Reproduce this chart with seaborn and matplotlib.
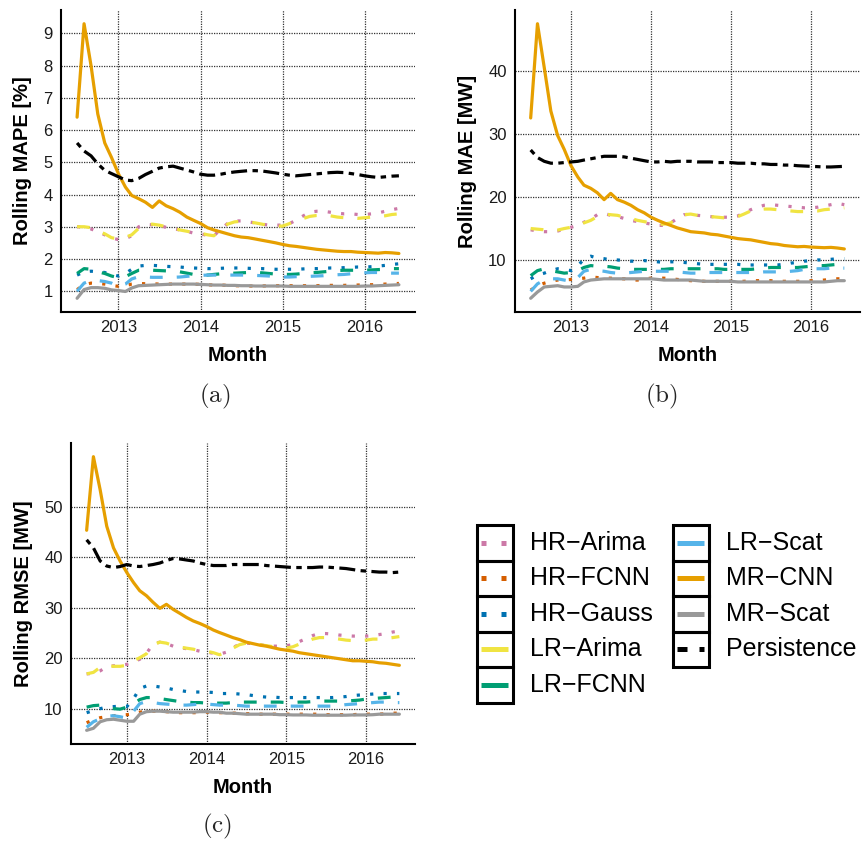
import matplotlib
matplotlib.use("Agg")
import matplotlib.pyplot as plt
import matplotlib.dates as mdates
from matplotlib.patches import Rectangle
from matplotlib.lines import Line2D
import numpy as np
import pandas as pd
import seaborn as sns

# months: Jul 2012 .. Jun 2016
months = pd.date_range("2012-07-01", periods=48, freq="MS")

models = ["HR-Arima", "HR-FCNN", "HR-Gauss", "LR-Arima", "LR-FCNN",
          "LR-Scat", "MR-CNN", "MR-Scat", "Persistence"]

# ---- (a) rolling MAPE [%]
mape_hr_arima = [3.0, 2.98, 2.93, 2.85, 2.75, 2.65, 2.6, 2.63, 2.72, 3.0, 3.07, 3.06, 3.04, 2.98, 2.94, 2.9,
                 2.86, 2.8, 2.78, 2.73, 2.72, 2.92, 3.1, 3.18, 3.18, 3.15, 3.12, 3.08, 3.05, 3.05, 3.05, 3.1,
                 3.2, 3.33, 3.45, 3.48, 3.48, 3.45, 3.42, 3.4, 3.4, 3.38, 3.38, 3.4, 3.43, 3.48, 3.53, 3.57]
mape_hr_fcnn = [1.05, 1.2, 1.25, 1.24, 1.22, 1.18, 1.15, 1.17, 1.22, 1.24, 1.23, 1.23, 1.22, 1.22, 1.22, 1.22,
                1.22, 1.22, 1.21, 1.2, 1.19, 1.19, 1.18, 1.17, 1.17, 1.16, 1.16, 1.16, 1.17, 1.17, 1.17, 1.17,
                1.17, 1.17, 1.17, 1.17, 1.18, 1.18, 1.18, 1.18, 1.19, 1.19, 1.2, 1.2, 1.21, 1.22, 1.23, 1.24]
mape_hr_gauss = [1.5, 1.6, 1.62, 1.6, 1.58, 1.52, 1.47, 1.55, 1.68, 1.78, 1.8, 1.8, 1.79, 1.77, 1.76, 1.75,
                 1.73, 1.72, 1.71, 1.7, 1.7, 1.71, 1.72, 1.72, 1.72, 1.71, 1.7, 1.7, 1.69, 1.68, 1.68, 1.68,
                 1.68, 1.69, 1.7, 1.7, 1.71, 1.72, 1.72, 1.73, 1.74, 1.75, 1.75, 1.76, 1.78, 1.8, 1.83, 1.85]
mape_lr_arima = [3.0, 3.0, 2.97, 2.87, 2.78, 2.66, 2.62, 2.67, 2.75, 2.95, 3.07, 3.08, 3.05, 3.0, 2.96, 2.9,
                 2.86, 2.82, 2.8, 2.75, 2.72, 2.9, 3.08, 3.15, 3.17, 3.15, 3.12, 3.08, 3.04, 3.02, 3.02, 3.1,
                 3.18, 3.25, 3.32, 3.35, 3.36, 3.34, 3.3, 3.28, 3.27, 3.26, 3.28, 3.3, 3.32, 3.34, 3.38, 3.4]
mape_lr_fcnn = [1.55, 1.7, 1.68, 1.6, 1.55, 1.47, 1.42, 1.45, 1.55, 1.65, 1.66, 1.65, 1.64, 1.63, 1.62, 1.6,
                1.56, 1.52, 1.5, 1.5, 1.52, 1.54, 1.55, 1.56, 1.57, 1.58, 1.58, 1.57, 1.55, 1.53, 1.52, 1.52,
                1.53, 1.55, 1.57, 1.58, 1.6, 1.62, 1.64, 1.65, 1.65, 1.65, 1.65, 1.66, 1.67, 1.68, 1.7, 1.7]
mape_lr_scat = [1.0, 1.25, 1.33, 1.33, 1.3, 1.25, 1.15, 1.22, 1.38, 1.45, 1.44, 1.43, 1.43, 1.43, 1.43, 1.44,
                1.46, 1.48, 1.49, 1.5, 1.5, 1.5, 1.5, 1.5, 1.5, 1.5, 1.49, 1.48, 1.47, 1.45, 1.44, 1.44,
                1.45, 1.46, 1.46, 1.47, 1.48, 1.5, 1.51, 1.52, 1.54, 1.56, 1.57, 1.58, 1.58, 1.57, 1.56, 1.56]
mape_mr_cnn = [6.4, 9.3, 8.0, 6.5, 5.6, 5.15, 4.64, 4.23, 3.97, 3.87, 3.76, 3.6, 3.8, 3.65, 3.56, 3.45,
               3.3, 3.2, 3.1, 2.97, 2.9, 2.84, 2.78, 2.72, 2.68, 2.66, 2.62, 2.58, 2.54, 2.5, 2.45, 2.41,
               2.39, 2.36, 2.33, 2.3, 2.28, 2.26, 2.24, 2.23, 2.23, 2.21, 2.2, 2.19, 2.18, 2.2, 2.19, 2.17]
mape_mr_scat = [0.78, 1.05, 1.11, 1.11, 1.09, 1.04, 1.02, 0.99, 1.1, 1.17, 1.18, 1.19, 1.2, 1.21, 1.22, 1.22,
                1.22, 1.22, 1.21, 1.2, 1.19, 1.19, 1.18, 1.18, 1.17, 1.17, 1.16, 1.16, 1.16, 1.16, 1.16, 1.15,
                1.15, 1.15, 1.15, 1.15, 1.15, 1.15, 1.15, 1.15, 1.15, 1.15, 1.16, 1.16, 1.17, 1.18, 1.19, 1.2]
mape_persistence = [5.6, 5.35, 5.2, 4.95, 4.75, 4.65, 4.55, 4.45, 4.43, 4.5, 4.62, 4.72, 4.82, 4.86, 4.88, 4.82,
                    4.76, 4.7, 4.63, 4.6, 4.6, 4.63, 4.67, 4.7, 4.72, 4.74, 4.74, 4.73, 4.7, 4.67, 4.63, 4.6,
                    4.58, 4.6, 4.62, 4.64, 4.66, 4.68, 4.69, 4.68, 4.65, 4.62, 4.58, 4.55, 4.53, 4.55, 4.57, 4.58]

# ---- (b) rolling MAE [MW]
mae_hr_arima = [14.8, 14.6, 14.5, 14.5, 14.6, 14.9, 15.2, 15.5, 16.0, 16.5, 17.2, 17.4, 17.1, 16.9, 16.6, 16.3,
                16.1, 15.9, 15.7, 15.5, 15.5, 15.9, 16.6, 17.2, 17.3, 17.1, 17.0, 16.9, 16.8, 16.8, 16.8, 17.0,
                17.5, 18.0, 18.4, 18.7, 18.8, 18.7, 18.6, 18.5, 18.4, 18.3, 18.3, 18.4, 18.6, 18.8, 19.0, 18.8]
mae_hr_fcnn = [5.2, 5.9, 6.3, 6.6, 6.8, 6.8, 6.9, 7.0, 7.1, 7.3, 7.2, 7.1, 7.1, 7.0, 7.0, 6.8,
               6.8, 7.0, 7.1, 7.1, 7.1, 7.0, 6.9, 6.8, 6.7, 6.7, 6.6, 6.6, 6.6, 6.6, 6.6, 6.6,
               6.6, 6.7, 6.7, 6.7, 6.7, 6.6, 6.6, 6.6, 6.6, 6.6, 6.7, 6.7, 6.8, 6.9, 7.0, 7.0]
mae_hr_gauss = [7.0, 7.6, 7.9, 8.3, 8.6, 8.5, 8.3, 9.0, 10.2, 10.6, 10.3, 10.2, 10.0, 10.0, 9.9, 9.8,
                9.8, 9.9, 9.8, 9.7, 9.6, 9.7, 9.7, 9.6, 9.5, 9.4, 9.3, 9.3, 9.3, 9.3, 9.3, 9.3,
                9.2, 9.2, 9.2, 9.2, 9.2, 9.2, 9.3, 9.5, 9.6, 9.8, 9.9, 10.0, 10.0, 10.1, 10.2, 10.2]
mae_lr_arima = [15.0, 14.9, 14.8, 14.6, 14.75, 15.0, 15.2, 15.4, 15.9, 16.3, 16.9, 17.3, 17.2, 17.1, 16.8, 16.6,
                16.3, 16.1, 15.9, 15.7, 15.7, 15.9, 16.6, 17.2, 17.3, 17.1, 16.9, 16.9, 16.8, 16.7, 16.7, 16.9,
                17.3, 17.8, 18.0, 18.1, 18.1, 18.0, 17.9, 17.8, 17.7, 17.7, 17.8, 17.8, 18.0, 18.1, 18.2, 18.3]
mae_lr_fcnn = [7.5, 8.3, 8.6, 8.3, 8.1, 7.9, 8.0, 8.3, 8.8, 9.1, 9.0, 9.0, 8.9, 8.7, 8.6, 8.5,
               8.5, 8.5, 8.5, 8.5, 8.5, 8.6, 8.6, 8.6, 8.6, 8.6, 8.6, 8.6, 8.6, 8.5, 8.5, 8.5,
               8.5, 8.5, 8.6, 8.7, 8.8, 8.8, 8.8, 8.8, 8.8, 8.9, 9.0, 9.1, 9.1, 9.2, 9.3, 9.3]
mae_lr_scat = [5.0, 6.2, 6.8, 7.0, 7.0, 6.8, 6.6, 7.2, 8.2, 8.5, 8.3, 8.2, 8.0, 7.9, 7.9, 8.0,
               8.1, 8.2, 8.2, 8.2, 8.2, 8.2, 8.1, 8.0, 7.9, 7.9, 8.0, 8.0, 8.0, 8.0, 8.0, 8.0,
               8.0, 8.0, 8.0, 8.1, 8.1, 8.1, 8.1, 8.2, 8.3, 8.5, 8.6, 8.6, 8.6, 8.7, 8.7, 8.7]
mae_mr_cnn = [32.6, 47.6, 40.6, 33.7, 29.8, 27.6, 25.0, 23.2, 21.9, 21.4, 20.7, 19.6, 20.6, 19.6, 19.2, 18.7,
              18.0, 17.5, 16.8, 16.3, 15.9, 15.5, 15.1, 14.8, 14.5, 14.4, 14.3, 14.1, 14.0, 13.8, 13.6, 13.4,
              13.3, 13.2, 13.0, 12.8, 12.6, 12.5, 12.3, 12.2, 12.1, 12.15, 12.05, 12.0, 11.95, 12.0, 11.9, 11.75]
mae_mr_scat = [3.9, 4.9, 5.7, 5.8, 5.9, 5.7, 5.7, 5.8, 6.5, 6.8, 6.9, 7.0, 7.0, 7.0, 7.0, 7.0,
               7.0, 7.0, 7.0, 6.9, 6.8, 6.8, 6.8, 6.8, 6.8, 6.7, 6.6, 6.6, 6.6, 6.6, 6.6, 6.5,
               6.5, 6.5, 6.5, 6.5, 6.5, 6.5, 6.5, 6.5, 6.5, 6.5, 6.5, 6.5, 6.5, 6.6, 6.7, 6.7]
mae_persistence = [27.5, 26.3, 25.7, 25.4, 25.4, 25.5, 25.6, 25.7, 25.9, 26.1, 26.3, 26.5, 26.5, 26.5, 26.4, 26.2,
                   26.0, 25.8, 25.6, 25.6, 25.7, 25.6, 25.7, 25.7, 25.7, 25.6, 25.6, 25.6, 25.5, 25.5, 25.5, 25.4,
                   25.4, 25.4, 25.3, 25.3, 25.2, 25.2, 25.1, 25.1, 25.0, 24.95, 24.9, 24.85, 24.8, 24.8, 24.85, 24.9]

# ---- (c) rolling RMSE [MW]
rmse_hr_arima = [16.9, 17.0, 17.5, 18.3, 18.5, 18.6, 18.8, 19.3, 19.8, 21.0, 22.8, 23.2, 22.9, 22.4, 22.1, 21.9,
                 21.7, 21.4, 21.2, 21.0, 20.8, 21.2, 22.1, 22.8, 23.0, 22.9, 22.7, 22.5, 22.4, 22.4, 22.5, 22.7,
                 23.3, 23.9, 24.5, 24.9, 24.9, 24.8, 24.6, 24.5, 24.4, 24.4, 24.4, 24.5, 24.7, 24.9, 25.2, 25.4]
rmse_hr_fcnn = [7.2, 7.8, 8.2, 8.4, 8.6, 8.7, 8.8, 9.0, 9.3, 9.5, 9.5, 9.5, 9.4, 9.3, 9.2, 9.2,
                9.2, 9.2, 9.3, 9.3, 9.2, 9.2, 9.1, 9.1, 9.0, 9.0, 8.9, 8.9, 8.9, 8.9, 8.9, 8.9,
                8.9, 8.9, 8.9, 8.9, 8.8, 8.8, 8.8, 8.8, 8.8, 8.9, 8.9, 8.9, 8.9, 9.0, 9.1, 9.1]
rmse_hr_gauss = [9.2, 9.6, 10.0, 10.3, 10.4, 10.5, 10.4, 12.0, 14.0, 14.5, 14.5, 14.3, 14.1, 13.8, 13.6, 13.4,
                 13.3, 13.3, 13.3, 13.2, 13.0, 13.0, 13.0, 12.9, 12.8, 12.6, 12.4, 12.3, 12.3, 12.2, 12.2, 12.2,
                 12.2, 12.2, 12.2, 12.2, 12.2, 12.2, 12.3, 12.4, 12.6, 12.7, 12.8, 12.9, 13.0, 13.0, 13.0, 13.0]
rmse_lr_arima = [16.9, 17.2, 18.2, 18.6, 18.4, 18.4, 18.6, 19.5, 20.1, 20.9, 22.7, 23.2, 23.0, 22.5, 22.2, 22.0,
                 21.8, 21.5, 21.4, 21.1, 20.7, 21.2, 22.0, 22.7, 23.0, 22.8, 22.7, 22.5, 22.3, 22.2, 22.0, 22.3,
                 22.8, 23.3, 23.8, 24.1, 24.1, 24.0, 23.8, 23.6, 23.5, 23.5, 23.6, 23.8, 23.8, 23.9, 24.1, 24.3]
rmse_lr_fcnn = [10.3, 10.6, 10.7, 10.3, 10.0, 9.9, 10.3, 11.0, 11.8, 12.2, 12.2, 12.0, 11.8, 11.6, 11.4, 11.3,
                11.2, 11.2, 11.1, 11.1, 11.1, 11.1, 11.2, 11.3, 11.3, 11.3, 11.3, 11.3, 11.3, 11.3, 11.2, 11.2,
                11.3, 11.3, 11.4, 11.5, 11.5, 11.5, 11.5, 11.5, 11.6, 11.7, 11.9, 12.0, 12.1, 12.2, 12.3, 12.3]
rmse_lr_scat = [6.3, 7.4, 8.0, 8.5, 8.6, 8.4, 8.1, 9.5, 11.0, 11.4, 11.2, 11.0, 10.9, 10.8, 10.7, 10.7,
                10.8, 10.9, 10.9, 10.8, 10.7, 10.7, 10.7, 10.6, 10.5, 10.5, 10.5, 10.5, 10.5, 10.5, 10.5, 10.5,
                10.5, 10.5, 10.5, 10.5, 10.5, 10.5, 10.6, 10.8, 10.9, 11.0, 11.1, 11.2, 11.3, 11.3, 11.2, 11.2]
rmse_mr_cnn = [45.4, 60.0, 53.4, 46.2, 41.9, 39.3, 37.0, 35.0, 33.4, 32.4, 31.1, 29.9, 30.7, 29.7, 28.9, 28.1,
               27.4, 26.9, 26.3, 25.6, 25.1, 24.6, 24.1, 23.7, 23.2, 22.9, 22.6, 22.4, 22.1, 21.8, 21.6, 21.4,
               21.1, 20.9, 20.7, 20.5, 20.3, 20.1, 19.9, 19.7, 19.5, 19.5, 19.4, 19.3, 19.1, 19.0, 18.8, 18.6]
rmse_mr_scat = [5.7, 6.1, 7.4, 7.8, 7.9, 7.7, 7.5, 7.5, 8.9, 9.4, 9.5, 9.5, 9.4, 9.3, 9.3, 9.3,
                9.3, 9.4, 9.4, 9.3, 9.3, 9.1, 9.1, 9.0, 8.9, 8.9, 8.9, 8.9, 8.9, 8.8, 8.8, 8.75,
                8.75, 8.75, 8.7, 8.7, 8.7, 8.7, 8.7, 8.7, 8.75, 8.75, 8.75, 8.8, 8.9, 8.9, 8.9, 8.9]
rmse_persistence = [43.5, 41.9, 39.3, 38.3, 38.0, 38.2, 38.6, 38.3, 38.2, 38.4, 38.6, 38.9, 39.4, 39.8, 39.7, 39.5,
                    39.3, 38.9, 38.6, 38.4, 38.4, 38.4, 38.6, 38.6, 38.6, 38.6, 38.6, 38.4, 38.3, 38.2, 38.1, 38.0,
                    38.0, 38.0, 38.0, 38.1, 38.1, 38.0, 37.9, 37.8, 37.6, 37.4, 37.3, 37.2, 37.1, 37.1, 37.0, 37.1]

palette = {"HR-Arima": "#CC79A7", "HR-FCNN": "#D55E00", "HR-Gauss": "#0072B2",
           "LR-Arima": "#F0E442", "LR-FCNN": "#009E73", "LR-Scat": "#56B4E9",
           "MR-CNN": "#E69F00", "MR-Scat": "#999999", "Persistence": "#000000"}
dotted = (1, 3.2)
dashed = (4, 4.4)
dashes = {"HR-Arima": dotted, "HR-FCNN": dotted, "HR-Gauss": dotted,
          "LR-Arima": dashed, "LR-FCNN": dashed, "LR-Scat": dashed,
          "MR-CNN": "", "MR-Scat": "", "Persistence": (1.7, 1.7, 5, 1.7)}

sns.set_theme(style="white", rc={"axes.edgecolor": "black"})
plt.rcParams["font.family"] = ["Liberation Sans", "DejaVu Sans"]
plt.rcParams["mathtext.fontset"] = "cm"


def long_frame(cols):
    parts = []
    for name, vals in zip(models, cols):
        parts.append(pd.DataFrame({"Month": months, "value": vals, "model": name}))
    return pd.concat(parts, ignore_index=True)


W, H = 865, 842
fig = plt.figure(figsize=(W / 100, H / 100), dpi=100)


def px_axes(left, top, right, bottom):
    return fig.add_axes([left / W, 1 - bottom / H, (right - left) / W, (bottom - top) / H])


panels = [
    (px_axes(61, 10, 415, 312), [mape_hr_arima, mape_hr_fcnn, mape_hr_gauss, mape_lr_arima, mape_lr_fcnn,
                                 mape_lr_scat, mape_mr_cnn, mape_mr_scat, mape_persistence],
     "Rolling MAPE [%]", [1, 2, 3, 4, 5, 6, 7, 8, 9], "(a)", (215, 396)),
    (px_axes(515, 10, 860, 312), [mae_hr_arima, mae_hr_fcnn, mae_hr_gauss, mae_lr_arima, mae_lr_fcnn,
                                  mae_lr_scat, mae_mr_cnn, mae_mr_scat, mae_persistence],
     "Rolling MAE [MW]", [10, 20, 30, 40], "(b)", (661, 396)),
    (px_axes(71, 443, 415, 744), [rmse_hr_arima, rmse_hr_fcnn, rmse_hr_gauss, rmse_lr_arima, rmse_lr_fcnn,
                                  rmse_lr_scat, rmse_mr_cnn, rmse_mr_scat, rmse_persistence],
     "Rolling RMSE [MW]", [10, 20, 30, 40, 50], "(c)", (217, 826)),
]

x0 = mdates.date2num(months[0])
x1 = mdates.date2num(months[-1])
xpad = 0.05 * (x1 - x0)
year_ticks = pd.to_datetime(["2013-01-01", "2014-01-01", "2015-01-01", "2016-01-01"])

for ax, cols, ylabel, yticks, cap, cap_xy in panels:
    df = long_frame(cols)
    sns.lineplot(data=df, x="Month", y="value", hue="model", style="model",
                 palette=palette, dashes=dashes, hue_order=models, style_order=models,
                 linewidth=2.3, errorbar=None, legend=False, ax=ax)
    lo, hi = df["value"].min(), df["value"].max()
    pad = 0.05 * (hi - lo)
    ax.set_ylim(lo - pad, hi + pad)
    ax.set_xlim(x0 - xpad, x1 + xpad)
    ax.set_xticks(year_ticks)
    ax.xaxis.set_major_formatter(mdates.DateFormatter("%Y"))
    ax.set_yticks(yticks)
    ax.grid(True, color="#333333", linewidth=0.9, linestyle=(0, (1, 1)))
    ax.set_axisbelow(True)
    sns.despine(ax=ax)
    for s in ["left", "bottom"]:
        ax.spines[s].set_linewidth(1.5)
        ax.spines[s].set_color("black")
    ax.tick_params(axis="both", length=0, pad=6, labelsize=12, labelcolor="#1a1a1a")
    ax.set_xlabel("Month", fontsize=14.5, fontweight="bold", labelpad=8, color="black")
    ax.set_ylabel(ylabel, fontsize=14.5, fontweight="bold", labelpad=8, color="black")
    fig.text(cap_xy[0] / W, 1 - cap_xy[1] / H, r"$\mathrm{" + cap + "}$", fontsize=18,
             ha="center", va="center")

# legend drawn in figure pixel space
leg = fig.add_axes([0, 0, 1, 1])
leg.set_xlim(0, W)
leg.set_ylim(H, 0)
leg.axis("off")
leg.patch.set_alpha(0)
row_h = 35.5
cols_px = [(477, models[:5]), (673, models[5:])]
leg_dashes = {"HR-Arima": (1, 3), "HR-FCNN": (1, 3), "HR-Gauss": (1, 3),
              "Persistence": (2, 2.4)}
for bx, names in cols_px:
    for k, name in enumerate(names):
        top = 525 + k * row_h
        leg.add_patch(Rectangle((bx, top), 36, row_h, fill=False, edgecolor="black", linewidth=2.2))
        cy = top + row_h / 2
        ln = Line2D([bx + 4, bx + 31], [cy, cy], color=palette[name], linewidth=3.6,
                    solid_capstyle="butt", dash_capstyle="butt")
        if name in leg_dashes:
            ln.set_dashes(leg_dashes[name])
        leg.add_line(ln)
        leg.text(bx + 53, cy, name.replace("-", "\u2212"), fontsize=18, va="center", ha="left",
                 color="black")

fig.savefig("out.png", dpi=100)
